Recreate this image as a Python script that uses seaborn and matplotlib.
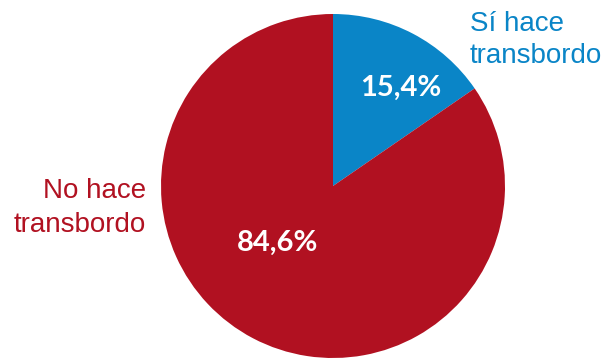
import matplotlib
matplotlib.use("Agg")
import matplotlib.pyplot as plt
import seaborn as sns

categories = ["Sí hace\ntransbordo", "No hace\ntransbordo"]
shares = [15.4, 84.6]
colors = ["#0A85C7", "#B11121"]

sns.set_theme(style="white")

fig = plt.figure(figsize=(6.07, 3.60), dpi=100)
ax = fig.add_axes([0, 0, 1, 1])

# pixel -> data helper (pie centre at (333,186), radius 172 px)
cx, cy, r = 333, 186, 172
def to_data(px, py):
    return (px - cx) / r, (cy - py) / r

ax.pie(shares, colors=colors, startangle=90, counterclock=False,
       radius=1, wedgeprops=dict(linewidth=0))
ax.set_xlim(-cx / r, (607 - cx) / r)
ax.set_ylim(-(360 - cy) / r, cy / r)
ax.set_aspect("equal")
ax.axis("off")

label_font = ["Liberation Sans", "DejaVu Sans"]
pct_font = ["Lato", "DejaVu Sans"]
label_size = 20

# category labels, one line at a time
si1, si2 = categories[0].split("\n")
no1, no2 = categories[1].split("\n")
x, y = to_data(470, 31)
ax.text(x, y, si1, ha="left", va="baseline", fontsize=label_size, color=colors[0], family=label_font)
x, y = to_data(470, 63)
ax.text(x, y, si2, ha="left", va="baseline", fontsize=label_size, color=colors[0], family=label_font)
x, y = to_data(146, 198)
ax.text(x, y, no1, ha="right", va="baseline", fontsize=label_size, color=colors[1], family=label_font)
x, y = to_data(146, 232)
ax.text(x, y, no2, ha="right", va="baseline", fontsize=label_size, color=colors[1], family=label_font)

# percentage labels
for val, (px, py) in zip(shares, [(401, 88), (278, 243)]):
    x, y = to_data(px, py)
    ax.text(x, y, f"{val:.1f}%".replace(".", ","), ha="center", va="center",
            fontsize=21, fontweight="bold", color="white", family=pct_font)

fig.savefig("out.png", dpi=100)
